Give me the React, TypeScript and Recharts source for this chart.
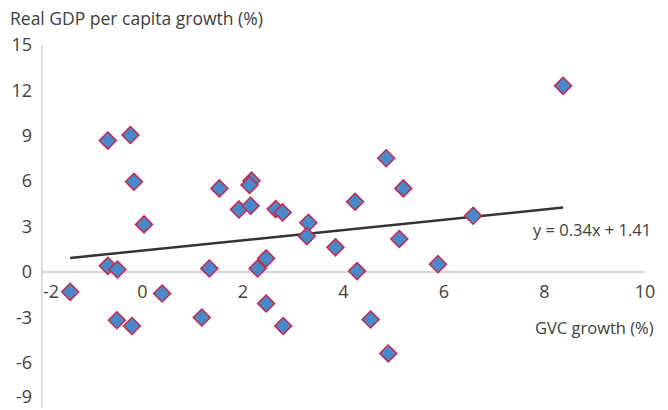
import React from 'react';
import {
  ScatterChart,
  Scatter,
  XAxis,
  YAxis,
  ReferenceLine,
  ReferenceDot,
} from 'recharts';

// GVC growth (%) per economy
const gvcGrowth = [
  -0.69, -0.24, -0.17, 0.03, -0.69, -0.5, -1.44, 0.39, -0.51, -0.21, 1.18, 1.33,
  1.53, 2.17, 2.13, 1.92, 2.15, 2.65, 2.79, 3.3, 3.27, 3.84, 2.46, 2.29, 2.46,
  2.8, 4.85, 5.19, 4.23, 6.58, 5.11, 4.27, 5.88, 4.54, 4.89, 8.37,
];

// Real GDP per capita growth (%) per economy
const gdpGrowth = [
  8.68, 9.05, 5.96, 3.14, 0.4, 0.16, -1.32, -1.43, -3.2, -3.58, -3.02, 0.22,
  5.52, 6.03, 5.74, 4.13, 4.37, 4.15, 3.93, 3.25, 2.36, 1.62, 0.89, 0.22, -2.09,
  -3.58, 7.51, 5.52, 4.64, 3.71, 2.17, 0.05, 0.51, -3.15, -5.4, 12.3,
];

const xTicks = [-2, 0, 2, 4, 6, 8, 10];
const yTicks = [-9, -6, -3, 0, 3, 6, 9, 12, 15];

// fitted line: y = 0.34x + 1.41
const slope = 0.34;
const intercept = 1.41;

const points = gvcGrowth.map((x, i) => ({ x, y: gdpGrowth[i] }));

const xMin = Math.min(...gvcGrowth);
const xMax = Math.max(...gvcGrowth);
const trend = [
  { x: xMin, y: slope * xMin + intercept },
  { x: xMax, y: slope * xMax + intercept },
];

const FONT = '"Open Sans", "Noto Sans", sans-serif';
const TEXT = '#404040';

const Diamond = (props: any) => {
  const { cx, cy } = props;
  const r = 8.5;
  return (
    <path
      d={`M${cx},${cy - r}L${cx + r},${cy}L${cx},${cy + r}L${cx - r},${cy}Z`}
      fill="#4a89c9"
      stroke="#c0294f"
      strokeWidth={1.5}
    />
  );
};

// bottom tick sits on the chart edge, nudge it up so it stays readable
const YTick = (props: any) => {
  const { x, y, payload } = props;
  const lift = payload.value === yTicks[0] ? -11 : 0;
  return (
    <text
      x={x}
      y={y + lift}
      dy="0.35em"
      textAnchor="end"
      fill={TEXT}
      fontSize={18}
      fontFamily={FONT}
    >
      {payload.value}
    </text>
  );
};

const XTickLabel = (value: number) => (props: any) => {
  const { viewBox } = props;
  const first = value === xTicks[0];
  return (
    <text
      x={viewBox.x + (first ? 1 : 0)}
      y={viewBox.y + 26}
      textAnchor={first ? 'start' : 'middle'}
      fill={TEXT}
      fontSize={18}
      fontFamily={FONT}
    >
      {value}
    </text>
  );
};

export default function App() {
  return (
    <div style={{ position: 'absolute', left: 0, top: 0, width: 668, height: 410, background: '#fff' }}>
      <div
        style={{
          position: 'absolute',
          left: 10,
          top: 6,
          fontFamily: FONT,
          fontSize: 17.5,
          color: TEXT,
          whiteSpace: 'nowrap',
        }}
      >
        Real GDP per capita growth (%)
      </div>
      <ScatterChart width={668} height={410} margin={{ top: 45, right: 23, bottom: 2, left: 0 }}>
        <XAxis type="number" dataKey="x" domain={[-2, 10]} ticks={xTicks} hide />
        <YAxis
          type="number"
          dataKey="y"
          domain={[-9, 15]}
          ticks={yTicks}
          width={42}
          axisLine={{ stroke: '#d0d0d0', strokeWidth: 1.5 }}
          tickLine={false}
          tickSize={0}
          tickMargin={10}
          tick={YTick}
          interval={0}
        />
        <ReferenceLine y={0} stroke="#c8c8c8" strokeWidth={1.5} />
        {xTicks.map((t) => (
          <ReferenceDot
            key={t}
            x={t}
            y={0}
            r={0}
            fill="none"
            stroke="none"
            label={XTickLabel(t)}
          />
        ))}
        <Scatter
          data={trend}
          line={{ stroke: '#333333', strokeWidth: 2.5 }}
          shape={() => null}
          isAnimationActive={false}
        />
        <Scatter data={points} shape={Diamond} isAnimationActive={false} />
      </ScatterChart>
      <div
        style={{
          position: 'absolute',
          left: 533,
          top: 218,
          fontFamily: FONT,
          fontSize: 16.5,
          color: TEXT,
          whiteSpace: 'nowrap',
        }}
      >
        y = 0.34x + 1.41
      </div>
      <div
        style={{
          position: 'absolute',
          left: 535,
          top: 316,
          fontFamily: FONT,
          fontSize: 16.5,
          color: TEXT,
          whiteSpace: 'nowrap',
        }}
      >
        GVC growth (%)
      </div>
    </div>
  );
}
